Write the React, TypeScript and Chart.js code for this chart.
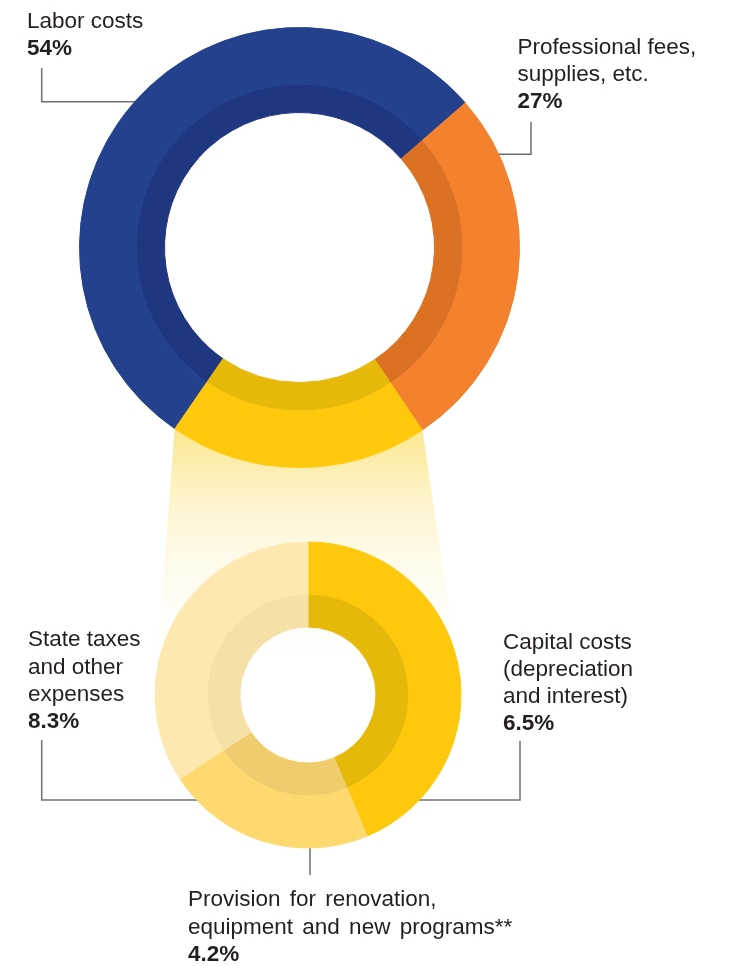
import React, { useEffect, useRef } from 'react';
import { Chart, registerables } from 'chart.js';

Chart.register(...registerables);

// ---------- data ----------
const mainCategories = ['Labor costs', 'Professional fees, supplies, etc.', 'Other costs'];
const mainValues = [54, 27, 19];
const mainColors = ['#24418E', '#F3812E', '#FEC90D'];
const mainBandColors = ['#1F3680', '#DB7123', '#E6B80A'];

// breakdown of the 19% slice, clockwise from 12 o'clock (arc sizes as drawn in the reference)
const otherCategories = [
  'Capital costs (depreciation and interest)',
  'Provision for renovation, equipment and new programs**',
  'State taxes and other expenses',
];
const otherArcValues = [8.3, 4.2, 6.5];
const otherColors = ['#FEC90D', '#FDD970', '#FDE8B0'];
const otherBandColors = ['#E6B80A', '#EFCD6C', '#F5E1A8'];

// printed labels
const mainLabelLines = [['Labor costs'], ['Professional fees,', 'supplies, etc.']];
const mainLabelPct = ['54%', '27%'];
const otherLabelLines = [
  ['Capital costs', '(depreciation', 'and interest)'],
  ['Provision for renovation,', 'equipment and new programs**'],
  ['State taxes', 'and other', 'expenses'],
];
const otherLabelPct = ['6.5%', '4.2%', '8.3%'];

// ---------- layout ----------
const W = 729;
const H = 966;
const TOP = { cx: 299.5, cy: 247.5, r: 220, rBand: 163.5, rIn: 135, rotation: 214.5 };
const LOW = { cx: 308, cy: 695, r: 153, rBand: 101, rIn: 68, rotation: 0 };
const FONT = '"Liberation Sans", Arial, Helvetica, sans-serif';
const FONT_SIZE = 22.5;
const LINE_H = 27.2;
const TEXT = '#231F20';
const LEADER = '#707070';

const labelPos = {
  labor: { x: 27, top: 6.9 },
  prof: { x: 517.5, top: 32.6 },
  capital: { x: 503, top: 627.6 },
  provision: { x: 188, top: 885.3 },
  state: { x: 28, top: 625.3 },
};

const leaders = [
  [[41.7, 68], [41.7, 101.7], [145, 101.7]],
  [[531, 121.7], [531, 154.3], [490, 154.3]],
  [[41.7, 740], [41.7, 800], [205, 800]],
  [[520, 740.7], [520, 800], [412, 800]],
  [[310, 840], [310, 875]],
];

function padFor(g: { cx: number; cy: number; r: number }) {
  const side = 2 * g.r + 1;
  const left = g.cx - g.r - 0.5;
  const top = g.cy - g.r - 0.5;
  return { left, top, right: W - left - side, bottom: H - top - side };
}

function donutConfig(
  g: typeof TOP,
  labels: string[],
  values: number[],
  colors: string[],
  band: string[],
  plugins: any[] = []
): any {
  const outerW = g.r - g.rBand;
  const bandW = g.rBand - g.rIn;
  const ds = (c: string[], w: number) => ({
    data: values,
    backgroundColor: c,
    borderColor: c,
    borderWidth: 1,
    hoverBorderWidth: 1,
    hoverBackgroundColor: c,
    hoverOffset: 0,
    offset: 0,
    weight: w,
  });
  return {
    type: 'doughnut',
    data: { labels, datasets: [ds(colors, outerW), ds(band, bandW)] },
    options: {
      responsive: false,
      animation: false,
      events: [],
      rotation: g.rotation,
      cutout: `${(g.rIn / g.r) * 100}%`,
      layout: { padding: padFor(g) },
      plugins: { legend: { display: false }, tooltip: { enabled: false }, title: { display: false } },
    },
    plugins,
  };
}

function Label({
  pos,
  lines,
  pct,
  wordSpacing = 0,
}: {
  pos: { x: number; top: number };
  lines: string[];
  pct: string;
  wordSpacing?: number;
}) {
  return (
    <div
      style={{
        position: 'absolute',
        left: pos.x,
        top: pos.top,
        fontFamily: FONT,
        fontSize: FONT_SIZE,
        lineHeight: `${LINE_H}px`,
        color: TEXT,
        whiteSpace: 'nowrap',
        wordSpacing,
        zIndex: 4,
      }}
    >
      {lines.map((l, i) => (
        <div key={i}>{l}</div>
      ))}
      <div style={{ fontWeight: 700 }}>{pct}</div>
    </div>
  );
}

export default function App() {
  const topRef = useRef<HTMLCanvasElement>(null);
  const lowRef = useRef<HTMLCanvasElement>(null);

  useEffect(() => {
    if (!topRef.current || !lowRef.current) return;
    const topChart = new Chart(
      topRef.current,
      donutConfig(TOP, mainCategories, mainValues, mainColors, mainBandColors)
    );

    const funnel = {
      id: 'funnel',
      beforeDatasetsDraw(chart: any) {
        const arc: any = topChart.getDatasetMeta(0).data[2];
        if (!arc) return;
        const a = arc.getProps(['x', 'y', 'startAngle', 'endAngle', 'outerRadius'], true);
        const low: any = chart.getDatasetMeta(0).data[0];
        const b = low.getProps(['x', 'y', 'outerRadius'], true);
        const R = a.outerRadius + 0.5;
        const p1 = [a.x + R * Math.cos(a.startAngle), a.y + R * Math.sin(a.startAngle)];
        const p2 = [a.x + R * Math.cos(a.endAngle), a.y + R * Math.sin(a.endAngle)];
        const y0 = Math.min(p1[1], p2[1]);
        const ctx = chart.ctx;
        const grad = ctx.createLinearGradient(0, y0, 0, y0 + 230);
        grad.addColorStop(0, 'rgba(248, 206, 30, 0.50)');
        grad.addColorStop(0.15, 'rgba(248, 206, 30, 0.36)');
        grad.addColorStop(0.32, 'rgba(248, 206, 30, 0.22)');
        grad.addColorStop(0.55, 'rgba(248, 206, 30, 0.10)');
        grad.addColorStop(0.78, 'rgba(248, 206, 30, 0.035)');
        grad.addColorStop(1, 'rgba(248, 206, 30, 0)');
        ctx.save();
        ctx.fillStyle = grad;
        ctx.beginPath();
        ctx.moveTo(p1[0], p1[1]);
        ctx.lineTo(b.x + b.outerRadius + 0.5, b.y);
        ctx.lineTo(b.x - b.outerRadius - 0.5, b.y);
        ctx.lineTo(p2[0], p2[1]);
        ctx.closePath();
        ctx.fill();
        ctx.restore();
      },
    };

    const lowChart = new Chart(
      lowRef.current,
      donutConfig(LOW, otherCategories, otherArcValues, otherColors, otherBandColors, [funnel])
    );
    return () => {
      lowChart.destroy();
      topChart.destroy();
    };
  }, []);

  return (
    <div
      style={{
        position: 'absolute',
        left: 0,
        top: 0,
        width: W,
        height: H,
        background: '#fff',
        overflow: 'hidden',
      }}
    >
      <svg width={W} height={H} style={{ position: 'absolute', left: 0, top: 0, zIndex: 1 }}>
        {leaders.map((pts, i) => (
          <polyline
            key={i}
            points={pts.map((p) => p.join(',')).join(' ')}
            fill="none"
            stroke={LEADER}
            strokeWidth={1.5}
          />
        ))}
      </svg>
      <canvas
        ref={lowRef}
        width={W}
        height={H}
        style={{ position: 'absolute', left: 0, top: 0, width: W, height: H, zIndex: 2 }}
      />
      <canvas
        ref={topRef}
        width={W}
        height={H}
        style={{ position: 'absolute', left: 0, top: 0, width: W, height: H, zIndex: 3 }}
      />
      <Label pos={labelPos.labor} lines={mainLabelLines[0]} pct={mainLabelPct[0]} />
      <Label pos={labelPos.prof} lines={mainLabelLines[1]} pct={mainLabelPct[1]} />
      <Label pos={labelPos.capital} lines={otherLabelLines[0]} pct={otherLabelPct[0]} />
      <Label pos={labelPos.provision} lines={otherLabelLines[1]} pct={otherLabelPct[1]} wordSpacing={3} />
      <Label pos={labelPos.state} lines={otherLabelLines[2]} pct={otherLabelPct[2]} />
    </div>
  );
}
